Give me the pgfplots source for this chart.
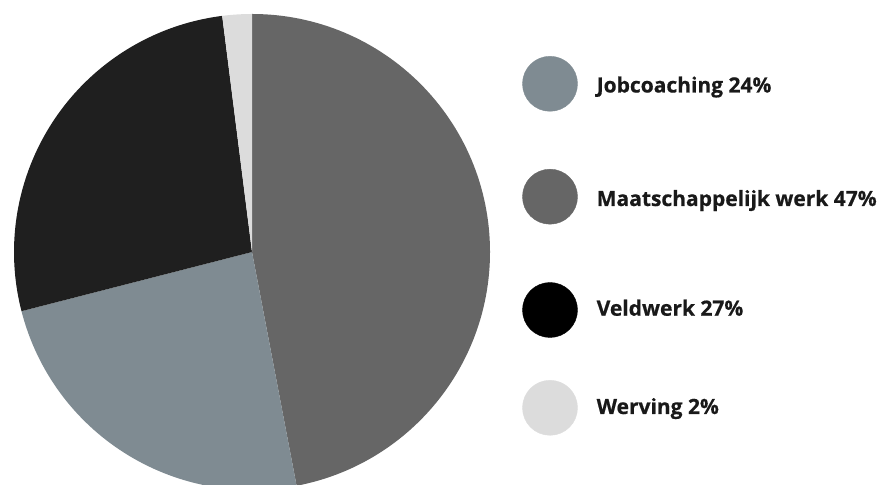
\documentclass[border=0pt]{standalone}
\usepackage{fontspec}
\setmainfont{Open Sans}
\newfontfamily\lblfont{Open Sans}[UprightFont=*-Bold, FakeBold=0.6]
\usepackage{pgfplots}
\pgfplotsset{compat=1.18}

\definecolor{jobc}{HTML}{7F8B92}
\definecolor{maats}{HTML}{666666}
\definecolor{veld}{HTML}{1F1F1F}
\definecolor{werv}{HTML}{DCDCDC}

% shares, clockwise from the top
\def\pMaats{47}
\def\pJobc{24}
\def\pVeld{27}
\def\pWerv{2}

\tikzset{lbl/.style={font=\lblfont\fontsize{21}{23}\selectfont, anchor=base west, inner sep=0pt, text=black!90}}

\begin{document}
\begin{tikzpicture}
\pgfmathsetmacro\aA{90}
\pgfmathsetmacro\aB{\aA-3.6*\pMaats}
\pgfmathsetmacro\aC{\aB-3.6*\pJobc}
\pgfmathsetmacro\aD{\aC-3.6*\pVeld}
\pgfmathsetmacro\aE{\aD-3.6*\pWerv}
\begin{axis}[
    x=1pt, y=1pt,
    xmin=0, xmax=882, ymin=0, ymax=484,
    hide axis, clip=true,
]
\path (rel axis cs:0,0) rectangle (rel axis cs:1,1);
\fill[maats] (axis cs:252,232) -- ++(\aA:238pt) arc[start angle=\aA, end angle=\aB, radius=238pt] -- cycle;
\fill[jobc]  (axis cs:252,232) -- ++(\aB:238pt) arc[start angle=\aB, end angle=\aC, radius=238pt] -- cycle;
\fill[veld]  (axis cs:252,232) -- ++(\aC:238pt) arc[start angle=\aC, end angle=\aD, radius=238pt] -- cycle;
\fill[werv]  (axis cs:252,232) -- ++(\aD:238pt) arc[start angle=\aD, end angle=\aE, radius=238pt] -- cycle;

% legend
\addplot[only marks, mark=*, mark size=27.5pt, mark options={draw=jobc, fill=jobc}] coordinates {(550,400.2)};
\addplot[only marks, mark=*, mark size=27.5pt, mark options={draw=maats, fill=maats}] coordinates {(550,287.3)};
\addplot[only marks, mark=*, mark size=27.5pt, mark options={draw=black, fill=black}] coordinates {(550,174)};
\addplot[only marks, mark=*, mark size=27.5pt, mark options={draw=werv, fill=werv}] coordinates {(550,76.2)};
\node[lbl] at (axis cs:596.5,391.5) {Jobcoaching \pJobc\%};
\node[lbl] at (axis cs:596.5,278) {Maatschappelijk werk \pMaats\%};
\node[lbl] at (axis cs:596.5,168.3) {Veldwerk \pVeld\%};
\node[lbl] at (axis cs:596.5,70) {Werving \pWerv\%};
\end{axis}
\end{tikzpicture}
\end{document}
